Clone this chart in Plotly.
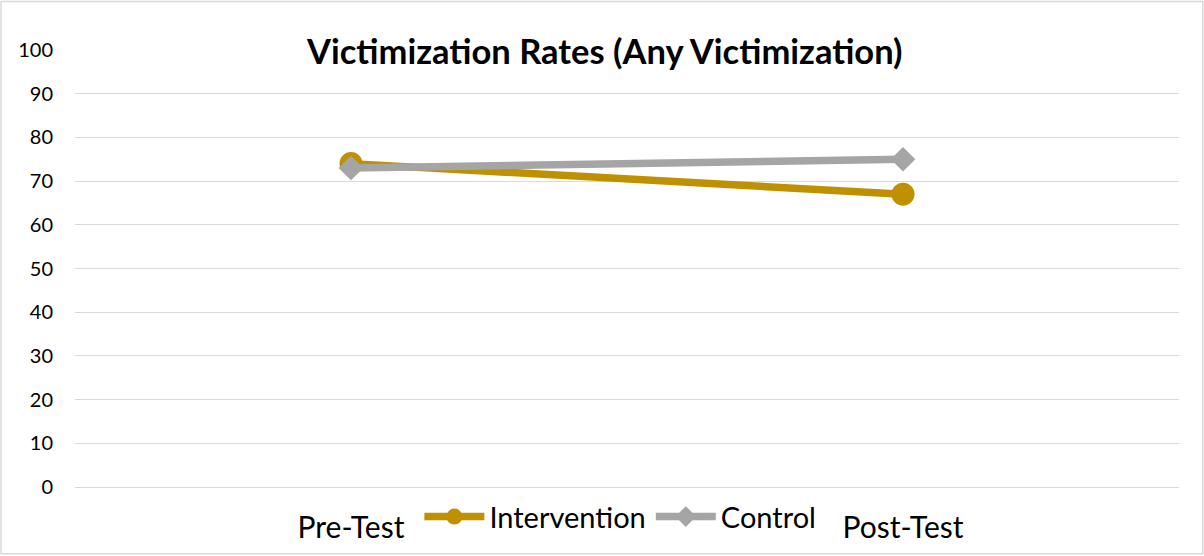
import plotly.graph_objects as go

categories = ["Pre-Test", "Post-Test"]
intervention = [74, 67]
control = [73, 75]
y_ticks = [0, 10, 20, 30, 40, 50, 60, 70, 80, 90, 100]

FONT = "Lato, Carlito, Calibri, sans-serif"

fig = go.Figure()
fig.add_trace(go.Scatter(
    x=categories, y=intervention, name="Intervention", mode="lines+markers",
    line=dict(color="#BF9000", width=7.5),
    marker=dict(symbol="circle", size=23, color="#BF9000"),
))
fig.add_trace(go.Scatter(
    x=categories, y=control, name="Control", mode="lines+markers",
    line=dict(color="#A5A5A5", width=7.5),
    marker=dict(symbol="diamond", size=19, color="#A5A5A5"),
))

fig.update_layout(
    width=1204, height=556,
    margin=dict(l=75, r=25, t=50, b=69),
    paper_bgcolor="white", plot_bgcolor="white",
    font=dict(family=FONT, color="#000000"),
    showlegend=True,
    legend=dict(orientation="h", x=0.494, xanchor="center", y=-0.068, yanchor="middle",
                font=dict(size=29, family=FONT), itemwidth=60, tracegroupgap=0,
                bgcolor="rgba(0,0,0,0)"),
    xaxis=dict(type="category", range=[-0.5, 1.5], showgrid=False, showline=False,
               zeroline=False, ticks="", tickfont=dict(size=30), ticklabelstandoff=20),
    yaxis=dict(range=[0, 100], tickvals=y_ticks, showgrid=True, gridcolor="#D9D9D9",
               gridwidth=1, zeroline=True, zerolinecolor="#D9D9D9", zerolinewidth=1,
               showline=False, ticks="", tickfont=dict(size=20), ticklabelstandoff=21),
    annotations=[dict(text="<b>Victimization Rates (Any Victimization)</b>",
                      xref="paper", yref="paper", x=0.48, y=1.0, yanchor="middle",
                      showarrow=False, font=dict(size=34.5, family=FONT))],
    shapes=[dict(type="rect", xref="paper", yref="paper", x0=-0.067, x1=1.0215,
                 y0=-0.153, y1=1.111, line=dict(color="#D9D9D9", width=1.5))],
)

fig.write_html("out.html", config={"displayModeBar": False},
               post_script="document.body.style.margin='0';document.body.style.overflow='hidden';")
